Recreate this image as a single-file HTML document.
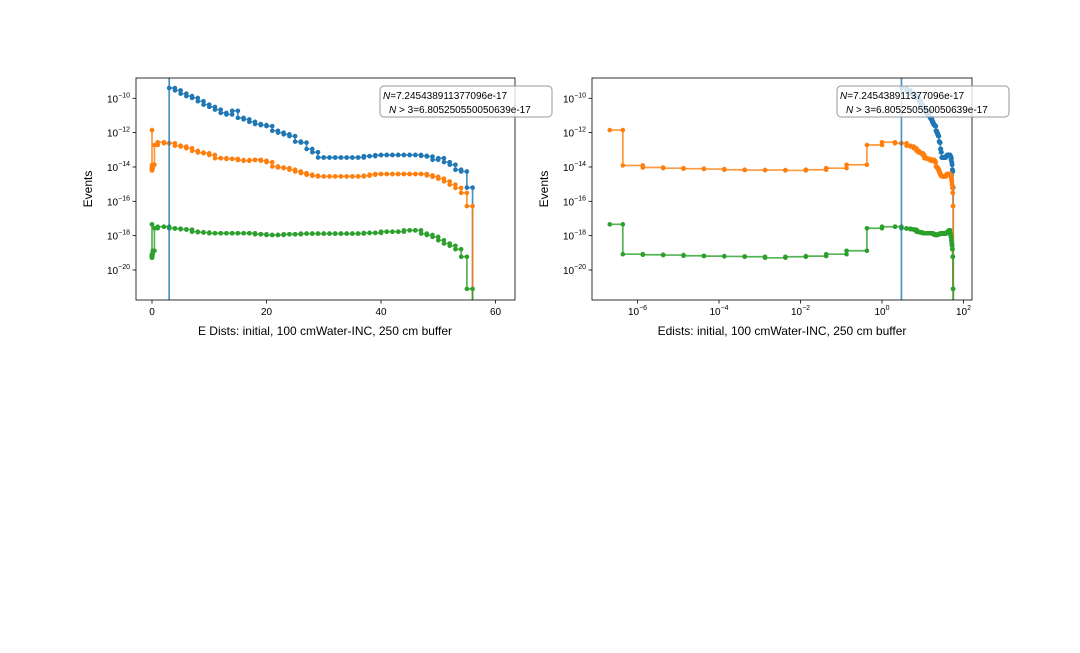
<!DOCTYPE html>
<html><head><meta charset="utf-8"><style>
body{margin:0;background:#fff;width:1080px;height:648px;overflow:hidden}
svg text{font-family:"Liberation Sans","DejaVu Sans",sans-serif;fill:#000}
</style></head><body>
<svg id="c" width="1080" height="648" xmlns="http://www.w3.org/2000/svg"></svg>
<script>
// bin edges below 3 (log10 of energy), then integer edges 3..56
const lowEdgeExp=[-6.68,-6.36,-5.87,-5.37,-4.87,-4.37,-3.87,-3.37,-2.87,-2.37,-1.87,-1.37,-0.87,-0.37,0,0.32];
const highEdges=[3,4,5,6,7,8,9,10,11,12,13,14,15,16,17,18,19,20,21,22,23,24,25,26,27,28,29,30,31,32,33,34,35,36,37,38,39,40,41,42,43,44,45,46,47,48,49,50,51,52,53,54,55,56];
// log10 values per bin (16 low bins + 53 high bins)
const blueLow=[null,null,null,null,null,null,null,null,null,null,null,null,null,null,null,null];
const blueHigh=[-9.40,-9.54,-9.73,-9.87,-9.98,-10.17,-10.37,-10.5,-10.66,-10.85,-10.94,-10.73,-11.14,-11.23,-11.37,-11.5,-11.56,-11.62,-11.89,-12.0,-12.1,-12.2,-12.52,-12.58,-12.95,-13.14,-13.45,-13.45,-13.45,-13.45,-13.45,-13.45,-13.45,-13.45,-13.37,-13.37,-13.31,-13.3,-13.3,-13.3,-13.3,-13.3,-13.3,-13.3,-13.35,-13.39,-13.58,-13.49,-13.72,-13.87,-14.16,-14.26,-15.2];
const orangeLow=[-11.85,-13.91,-14.03,-14.07,-14.1,-14.12,-14.16,-14.18,-14.18,-14.2,-14.16,-14.07,-13.87,-12.72,-12.56,-12.62];
const orangeHigh=[-12.62,-12.76,-12.81,-12.91,-13.06,-13.16,-13.2,-13.3,-13.49,-13.49,-13.53,-13.53,-13.6,-13.64,-13.6,-13.58,-13.64,-13.72,-13.97,-14.03,-14.07,-14.16,-14.26,-14.36,-14.45,-14.51,-14.55,-14.55,-14.55,-14.55,-14.55,-14.55,-14.55,-14.55,-14.51,-14.45,-14.41,-14.41,-14.41,-14.41,-14.41,-14.41,-14.41,-14.41,-14.41,-14.49,-14.57,-14.68,-14.84,-15.03,-15.22,-15.51,-16.28];
const greenLow=[-17.34,-19.08,-19.11,-19.13,-19.17,-19.19,-19.21,-19.23,-19.29,-19.23,-19.19,-19.08,-18.88,-17.57,-17.48,-17.48];
const greenHigh=[-17.57,-17.59,-17.63,-17.65,-17.77,-17.8,-17.82,-17.86,-17.86,-17.86,-17.86,-17.86,-17.86,-17.86,-17.86,-17.92,-17.92,-17.96,-17.96,-17.96,-17.92,-17.92,-17.92,-17.88,-17.88,-17.88,-17.88,-17.88,-17.88,-17.88,-17.88,-17.88,-17.88,-17.88,-17.84,-17.84,-17.84,-17.77,-17.77,-17.77,-17.77,-17.69,-17.69,-17.69,-17.88,-17.96,-18.07,-18.27,-18.46,-18.59,-18.79,-19.23,-21.1];
const yTicks=[-20,-18,-16,-14,-12,-10];
const xTicksLin=[0,20,40,60];
const xTicksLog=[-6,-4,-2,0,2];
const cutE=3;

const NS='http://www.w3.org/2000/svg';
const svg=document.getElementById('c');
function mk(t,a,p){const e=document.createElementNS(NS,t);for(const k in a)e.setAttribute(k,a[k]);(p||svg).appendChild(e);return e;}
const edges=lowEdgeExp.map(v=>Math.pow(10,v)).concat(highEdges);
const series=[
 {name:'blue',c:'#1f77b4',v:blueLow.concat(blueHigh)},
 {name:'orange',c:'#ff7f0e',v:orangeLow.concat(orangeHigh)},
 {name:'green',c:'#2ca02c',v:greenLow.concat(greenHigh)}];

function panel(id,L,R,T,B,xfun,ticks,tickLab,xlabel,labX){
 const g=mk('g',{});
 
 
 const y=v=>98.3+(-10-v)*17.17;
 const clip=mk('clipPath',{id:id+'-clip'},g);mk('rect',{x:L,y:T,width:R-L,height:B-T},clip);
 const pg=mk('g',{'clip-path':'url(#'+id+'-clip)'},g);
 series.forEach(s=>{
  const sg=mk('g',{},pg);
  
  
  let d='',pts=[],prev=null;
  for(let i=0;i<s.v.length;i++){
   if(s.v[i]===null){prev=null;continue;}
   const x0=xfun(edges[i]),x1=xfun(edges[i+1]),yy=y(s.v[i]);
   if(prev===null){d+='M'+x0+','+yy;}else d+='L'+x0+','+yy;
   d+='L'+x1+','+yy;pts.push([x0,yy],[x1,yy]);prev=yy;
  }
  d+='L'+xfun(edges[edges.length-1])+','+(B+5);
  const p=mk('path',{d:d,fill:'none',stroke:s.c,'stroke-width':1.7,'stroke-opacity':0.8},sg);
  
  
  pts.forEach(q=>{const c=mk('circle',{cx:q[0],cy:q[1],r:2.3,fill:s.c},sg);
   
   });
 });
 const vl=mk('line',{x1:xfun(cutE),x2:xfun(cutE),y1:T,y2:B,stroke:'#1f77b4','stroke-width':1.7,'stroke-opacity':0.8},pg);
 
 
 const fr=mk('rect',{x:L,y:T,width:R-L,height:B-T,fill:'none',stroke:'#000','stroke-width':0.8},g);
 
 
 yTicks.forEach(t=>{const yy=y(t);mk('line',{x1:L-3.5,x2:L,y1:yy,y2:yy,stroke:'#000','stroke-width':0.8},g);
  const tx=mk('text',{x:L-6,y:yy+4,'text-anchor':'end','font-size':10},g);
  
  
  tx.innerHTML='10<tspan font-size="7" dy="-5">\u2212'+(-t)+'</tspan>';});
 ticks.forEach((t,i)=>{const xx=tickLab.pos(t);mk('line',{x1:xx,x2:xx,y1:B,y2:B+3.5,stroke:'#000','stroke-width':0.8},g);
  const tx=mk('text',{x:xx,y:B+15,'text-anchor':'middle','font-size':10},g);
  
  
  tx.innerHTML=tickLab.lab(t);});
 const xl=mk('text',{x:labX,y:335,'text-anchor':'middle','font-size':12},g);xl.textContent=xlabel;
 
 
 const yl=mk('text',{x:0,y:0,transform:'translate('+(L-44)+','+((T+B)/2)+') rotate(-90)','text-anchor':'middle','font-size':12},g);yl.textContent='Events';
 
 
 const lx=R-135,lg=mk('g',{},g);
 
 
 mk('rect',{x:lx,y:86,width:172,height:31,rx:4,fill:'#fff','fill-opacity':0.8,stroke:'#999'},lg);
 const t1=mk('text',{x:lx+3,y:99,'font-size':10},lg);t1.innerHTML='<tspan font-style="italic">N</tspan>=7.245438911377096e-17';
 const t2=mk('text',{x:lx+9,y:113,'font-size':10},lg);t2.innerHTML='<tspan font-style="italic">N</tspan> &gt; 3=6.805250550050639e-17';
}
const linX=v=>152+v*5.725;
panel('left-panel',136,515,78,300,linX,xTicksLin,{pos:linX,lab:t=>String(t)},'E Dists: initial, 100 cmWater-INC, 250 cm buffer',325);
const logX=v=>882+Math.log10(v)*40.75;
panel('right-panel',592,972,78,300,logX,xTicksLog,{pos:t=>882+t*40.75,lab:t=>'10<tspan font-size="7" dy="-5">'+(t<0?'\u2212'+(-t):t)+'</tspan>'},'Edists: initial, 100 cmWater-INC, 250 cm buffer',782);
</script>
</body></html>
